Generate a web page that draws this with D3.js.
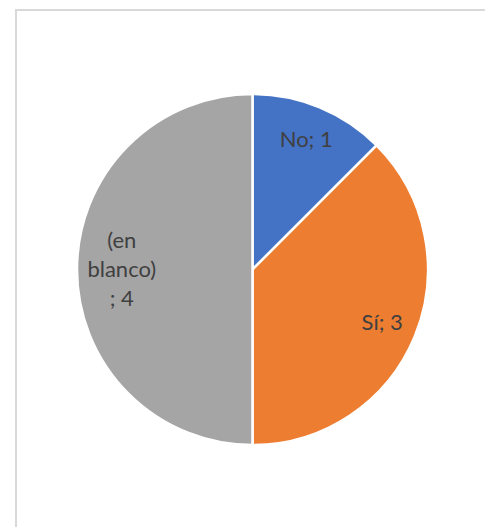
<!DOCTYPE html>
<html>
<head>
<meta charset="utf-8">
<style>
body { margin: 0; background: #fff; }
.lbl { font-family: Lato, "Open Sans", sans-serif; font-size: 22px; fill: #404040; }
</style>
</head>
<body>
<svg width="485" height="527"></svg>
<script src="https://d3js.org/d3.v7.min.js"></script>
<script>

var categories = ["No", "Sí", "(en blanco)"];
var values = [1, 3, 4];
var colors = ["#4472C4", "#ED7D31", "#A5A5A5"];
// how excel wraps the labels
var labelLines = [["No; 1"], ["Sí; 3"], ["(en", "blanco)", "; 4"]];

var svg = d3.select("svg"),
    width = +svg.attr("width"),
    height = +svg.attr("height");

// chart area frame (cut off on the right and bottom)
svg.append("rect")
    .attr("x", 16)
    .attr("y", 10)
    .attr("width", 520)
    .attr("height", 560)
    .attr("fill", "#fff")
    .attr("stroke", "#d9d9d9")
    .attr("stroke-width", 2);

var cx = 252.5, cy = 269.5, radius = 175.5;

var data = categories.map(function(c, i) {
  return {name: c, value: values[i], color: colors[i], lines: labelLines[i]};
});

var pie = d3.pie()
    .sort(null)
    .value(function(d) { return d.value; });

var arc = d3.arc()
    .innerRadius(0)
    .outerRadius(radius);

var g = svg.append("g")
    .attr("transform", "translate(" + cx + "," + cy + ")");

var slices = pie(data);

g.selectAll("path")
  .data(slices)
  .enter().append("path")
    .attr("d", arc)
    .attr("fill", function(d) { return d.data.color; })
    .attr("stroke", "#fff")
    .attr("stroke-width", 2.5)
    .attr("stroke-linejoin", "round");

var lineH = 29;

g.selectAll("text")
  .data(slices)
  .enter().append("text")
    .attr("class", "lbl")
    .attr("text-anchor", "middle")
    .each(function(d) {
      var n = d.data.lines.length;
      var r = n > 1 ? radius * 0.745 : radius * 0.8;
      var la = d3.arc().innerRadius(r).outerRadius(r);
      var c = la.centroid(d);
      var t = d3.select(this);
      d.data.lines.forEach(function(s, i) {
        t.append("tspan")
          .attr("x", c[0])
          .attr("y", c[1] + 7 + (i - (n - 1) / 2) * lineH)
          .text(s);
      });
    });

</script>
</body>
</html>
